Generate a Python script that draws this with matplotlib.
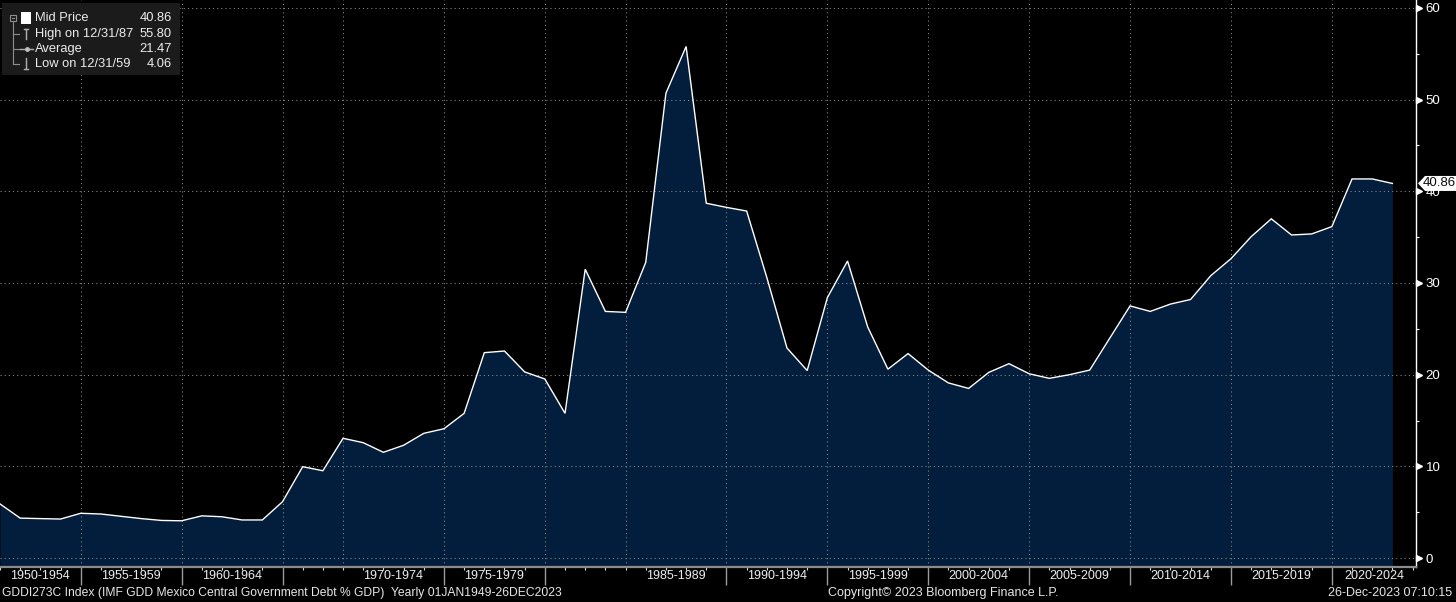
import numpy as np
import matplotlib
matplotlib.use("Agg")
import matplotlib.pyplot as plt
from matplotlib import transforms
from matplotlib.patches import Rectangle, Polygon
from matplotlib.lines import Line2D

plt.rcParams['font.family'] = ['Liberation Sans', 'DejaVu Sans']

# ---------------- data ----------------
# yearly observations (Bloomberg "no gaps" axis: one slot per observation)
debt_values = [
    5.9, 4.35, 4.3, 4.25, 4.88,          # 1950-1954
    4.8, 4.55, 4.3, 4.1, 4.06,           # 1955-1959
    4.6, 4.5, 4.15, 4.15, 6.14,          # 1960-1964
    9.96, 9.52, 13.06,                   # 1965-1969
    12.58, 11.53, 12.3, 13.6, 14.1,      # 1970-1974
    15.78, 22.4, 22.58, 20.3, 19.53,     # 1975-1979
    15.78, 31.5, 26.9, 26.8,             # 1980-1984
    32.25, 50.7, 55.8, 38.7, 38.25,      # 1985-1989
    37.85, 30.6, 22.9, 20.45, 28.4,      # 1990-1994
    32.4, 25.2, 20.6, 22.3, 20.5,        # 1995-1999
    19.1, 18.5, 20.25, 21.2, 20.1,       # 2000-2004
    19.6, 20.0, 20.5, 24.0, 27.5,        # 2005-2009
    26.9, 27.7, 28.2, 30.8, 32.65,       # 2010-2014
    35.05, 37.0, 35.24, 35.35, 36.15,    # 2015-2019
    41.35, 41.35, 40.86,                 # 2020-2024
]
group_labels = ["1950-1954", "1955-1959", "1960-1964", "", "1970-1974",
                "1975-1979", "", "1985-1989", "1990-1994", "1995-1999",
                "2000-2004", "2005-2009", "2010-2014", "2015-2019", "2020-2024"]
group_bounds = [0, 4, 9, 14, 17, 22, 27, 31, 36, 41, 46, 51, 56, 61, 66, 70.17]
separator_idx = [4, 9, 14, 22, 27, 36, 41, 46, 51, 56, 61, 66]
y_ticks = [0, 10, 20, 30, 40, 50, 60]
legend_rows = [("Mid Price", "40.86"), ("High on 12/31/87", "55.80"),
               ("Average", "21.47"), ("Low on 12/31/59", "4.06")]
last_value = "40.86"
footer_left = "GDDI273C Index (IMF GDD Mexico Central Government Debt % GDP)  Yearly 01JAN1949-26DEC2023"
footer_mid = "Copyright\u00a9 2023 Bloomberg Finance L.P."
footer_right = "26-Dec-2023 07:10:15"

# ---------------- figure ----------------
W, H = 1456, 602
AXW, AXH = 1416, 567
fig = plt.figure(figsize=(W / 100, H / 100), dpi=100, facecolor='black')
ax = fig.add_axes([0, (H - AXH) / H, AXW / W, AXH / H])
ax.set_facecolor('black')

x = np.arange(len(debt_values))
NAVY = '#031e3d'
ax.fill_between(x, debt_values, -5, color=NAVY, lw=0, zorder=1)
ax.plot(x, debt_values, color='white', lw=1.0, zorder=4, solid_joinstyle='miter')

ax.set_xlim(0, group_bounds[-1])
ax.set_ylim(-0.98, 60.87)

# grid
grid_kw = dict(color='#8a8a8a', lw=0.75, ls=(0, (1, 3)), zorder=2)
for yv in y_ticks:
    ax.axhline(yv, **grid_kw)
for b in group_bounds[1:-1]:
    ax.axvline(b, **grid_kw)

# spines
for s in ['top', 'left']:
    ax.spines[s].set_visible(False)
ax.spines['right'].set_color('white')
ax.spines['right'].set_linewidth(1.0)
ax.spines['bottom'].set_color('#8c8c8c')
ax.spines['bottom'].set_linewidth(1.6)

# x ticks
ax.set_xticks(separator_idx)
ax.set_xticks(np.arange(0, 71), minor=True)
ax.tick_params(axis='x', which='major', length=13, width=1.0, color='#9a9a9a',
               labelbottom=False, direction='out')
ax.tick_params(axis='x', which='minor', length=2.5, width=0.8, color='#d8d8d8',
               direction='out')
centers = [(group_bounds[i] + group_bounds[i + 1]) / 2 for i in range(len(group_labels))]
lab_pos = [c for c, l in zip(centers, group_labels) if l]
lab_txt = [l for l in group_labels if l]
sec = ax.secondary_xaxis('bottom')
sec.set_xticks(lab_pos, lab_txt)
sec.tick_params(length=0, pad=2.5, labelsize=9, labelcolor='#eeeeee')
sec.spines['bottom'].set_visible(False)

# y ticks on right
ax.yaxis.tick_right()
ax.set_yticks(y_ticks)
ax.set_yticks(np.arange(5, 60, 10), minor=True)
ax.tick_params(axis='y', which='major', length=0, pad=7, labelsize=9.5,
               labelcolor='white', right=True, left=False)
ax.tick_params(axis='y', which='minor', length=2.5, width=0.8, color='white',
               right=True, left=False, direction='out')
tri_tr = transforms.blended_transform_factory(ax.transAxes, ax.transData)
ax.plot([1 + 3.5 / AXW] * len(y_ticks), y_ticks, ls='none', marker='>', ms=5,
        color='white', mec='white', transform=tri_tr, clip_on=False, zorder=5)

# last value box
fy = transforms.blended_transform_factory(fig.transFigure, ax.transData)
v = float(last_value)
hh = 7.5 / 9.1667
box = Polygon([(1418 / W, v), (1425 / W, v + hh), (1.0, v + hh), (1.0, v - hh), (1425 / W, v - hh)],
              closed=True, transform=fy, fc='white', ec='none', clip_on=False, zorder=10)
ax.add_patch(box)
ax.text(1439.5 / W, v, last_value, transform=fy, ha='center', va='center',
        fontsize=9.5, color='#0a0a0a', zorder=11, clip_on=False)

# legend box (pixel coords from top-left of axes)
def P(px, py):
    return (px / AXW, 1 - py / AXH)

ax.add_patch(Rectangle(P(2, 75), 178 / AXW, 72 / AXH, transform=ax.transAxes,
                       fc='#1b1b1b', ec='none', zorder=8))
row_y = [18, 34, 49, 64]
tc = '#ececec'
for (lab, val), yy in zip(legend_rows, row_y):
    ax.text(*P(35, yy), lab, transform=ax.transAxes, ha='left', va='center',
            fontsize=9.3, color=tc, zorder=9)
    ax.text(*P(172, yy), val, transform=ax.transAxes, ha='right', va='center',
            fontsize=9.3, color=tc, zorder=9)

gc = '#8e8e8e'
def seg(p1, p2, color=gc, lw=0.8):
    (x1, y1), (x2, y2) = P(*p1), P(*p2)
    ax.add_line(Line2D([x1, x2], [y1, y2], transform=ax.transAxes, color=color,
                       lw=lw, zorder=9))

# tree
ax.add_patch(Rectangle(P(10, 21), 6 / AXW, 6 / AXH, transform=ax.transAxes,
                       fc='none', ec=gc, lw=0.8, zorder=9))
seg((11.5, 18), (14.5, 18))
seg((13, 21), (13, 64))
for yy in row_y[1:]:
    seg((13, yy), (19, yy))
# icons
ax.add_patch(Rectangle(P(21, 24), 10 / AXW, 12 / AXH, transform=ax.transAxes,
                       fc='white', ec='none', zorder=9))
seg((23.5, 28.5), (28.5, 28.5), color='#b0b0b0', lw=1)
seg((26, 28.5), (26, 39), color='#b0b0b0', lw=1)
seg((20, 49), (33, 49), color='#b0b0b0', lw=1)
ax.plot(*P(26.5, 49), marker='o', ms=2.5, color='#c0c0c0', transform=ax.transAxes,
        zorder=9, clip_on=False)
seg((26, 58), (26, 68.5), color='#b0b0b0', lw=1)
seg((23.5, 68.5), (28.5, 68.5), color='#b0b0b0', lw=1)

# footer
fy_txt = (H - 593) / H
fig.text(2 / W, fy_txt, footer_left, ha='left', va='center', fontsize=8.7, color='#e6e6e6')
fig.text(828 / W, fy_txt, footer_mid, ha='left', va='center', fontsize=9, color='#e6e6e6')
fig.text(1452 / W, fy_txt, footer_right, ha='right', va='center', fontsize=9, color='#e6e6e6')

fig.savefig('out.png', dpi=100, facecolor='black')
